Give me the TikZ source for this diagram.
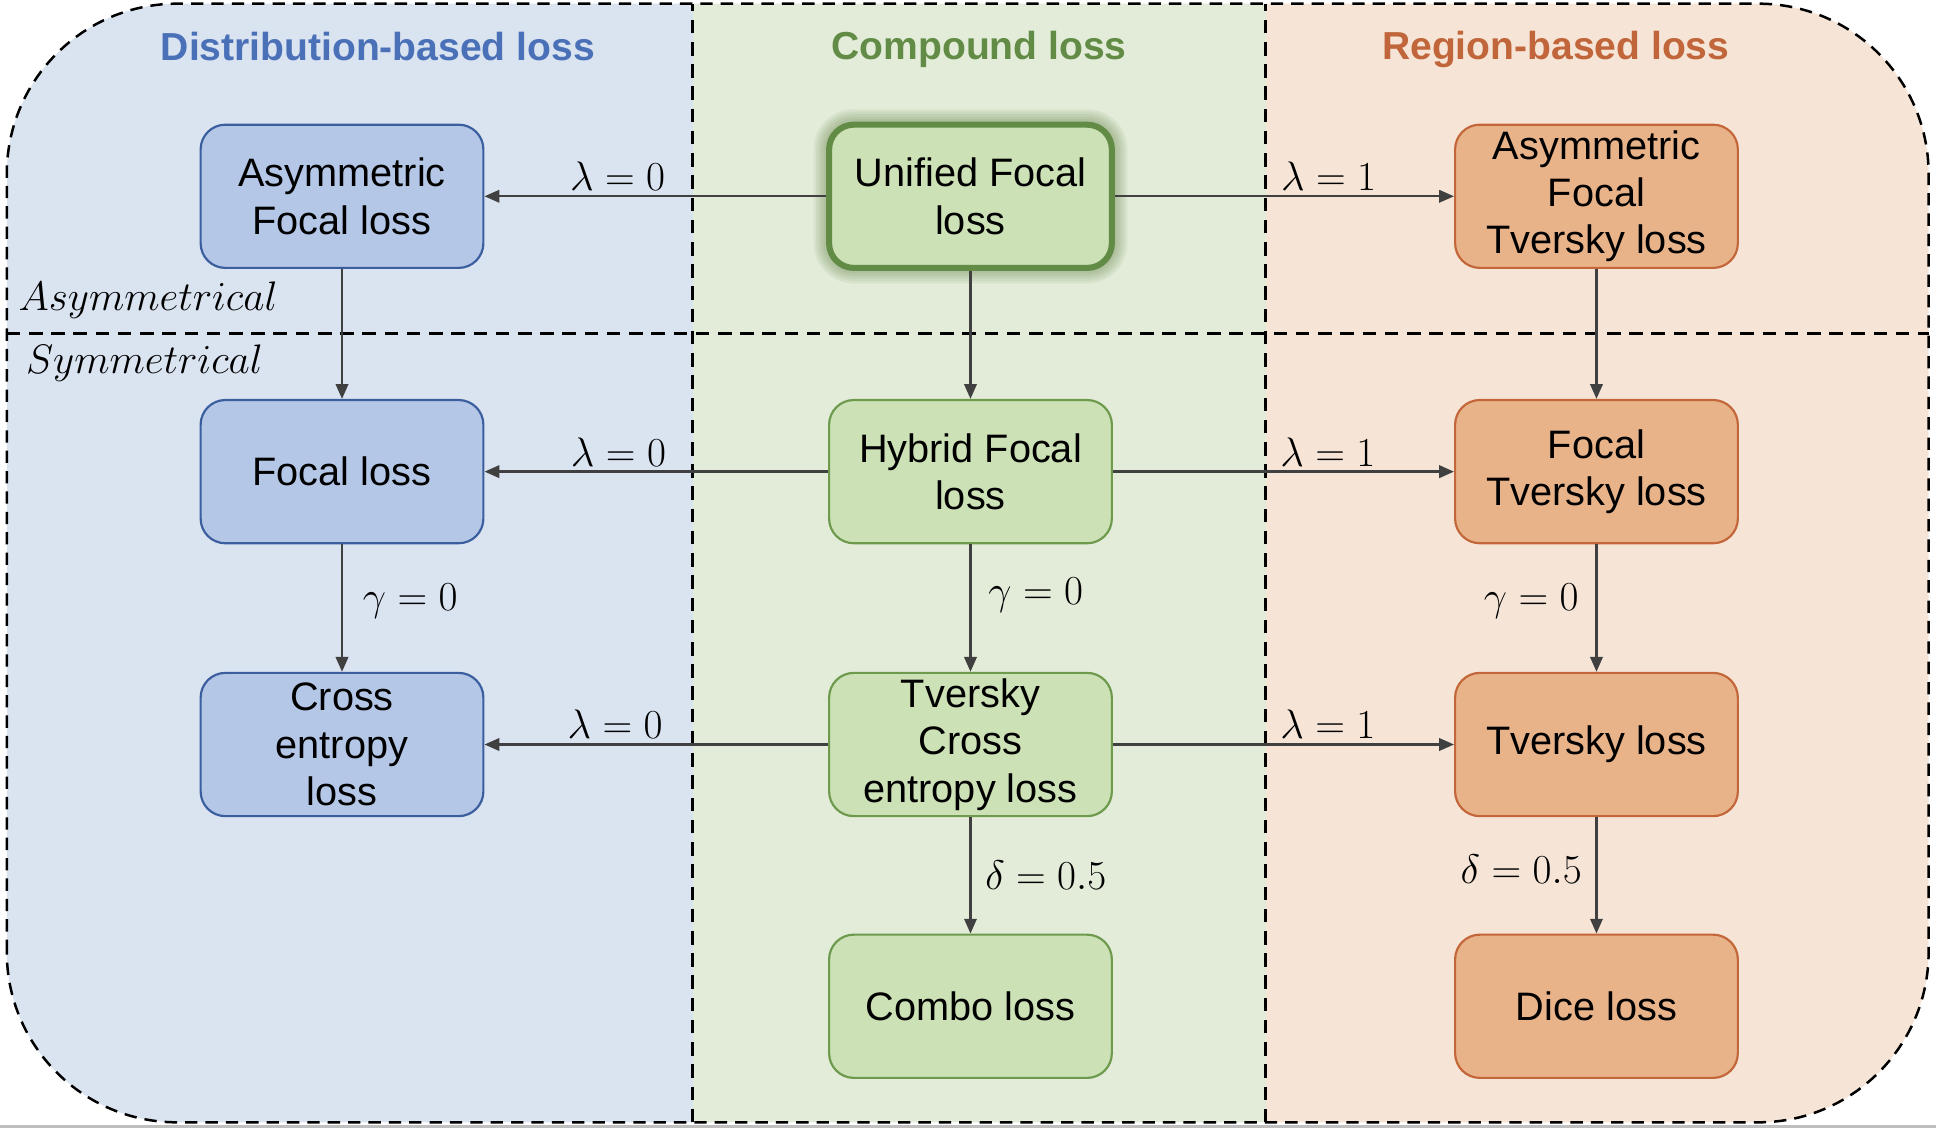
\RequirePackage{fix-cm}
\documentclass[tikz,border=0pt]{standalone}
\usepackage{amsmath}
\usepackage{fontspec}
\setmainfont{Liberation Sans}
\usetikzlibrary{arrows.meta,calc}

\definecolor{distbg}{HTML}{DAE3F0}
\definecolor{distbox}{HTML}{B4C7E7}
\definecolor{distline}{HTML}{3B5E9E}
\definecolor{disttitle}{HTML}{4A70B8}
\definecolor{compbg}{HTML}{E2ECD9}
\definecolor{compbox}{HTML}{CCE1B6}
\definecolor{compline}{HTML}{6E9A4E}
\definecolor{comptitle}{HTML}{628C45}
\definecolor{glowgreen}{HTML}{6F8A52}
\definecolor{regbg}{HTML}{F6E5D7}
\definecolor{regbox}{HTML}{E9B38A}
\definecolor{regline}{HTML}{C3673A}
\definecolor{regtitle}{HTML}{C0663A}
\definecolor{arrowgray}{HTML}{404040}

\begin{document}
\begin{tikzpicture}[
    lossbox/.style={rectangle, rounded corners=0.4cm, minimum width=4.58cm, minimum height=2.32cm,
      align=center, line width=1pt, inner sep=2pt, font=\fontsize{18.3}{21.8}\selectfont},
    distnode/.style={lossbox, draw=distline, fill=distbox},
    compnode/.style={lossbox, draw=compline, fill=compbox},
    regnode/.style={lossbox, draw=regline, fill=regbox},
    coltitle/.style={font=\fontsize{18}{21.6}\selectfont\bfseries},
    lbl/.style={font=\fontsize{19}{22}\selectfont, inner sep=2pt},
    sidelbl/.style={font=\fontsize{19}{22}\selectfont, inner sep=0pt},
    link/.style={-{Triangle[length=0.24cm,width=0.2cm]}, draw=arrowgray, line width=1.1pt},
    panelline/.style={dash pattern=on 0.22cm off 0.14cm, line width=1.6pt},
    outerline/.style={dash pattern=on 0.2cm off 0.13cm, line width=1.15pt}
  ]
  % columns and rows
  \def\ca{5.54}
  \def\cb{15.72}
  \def\cc{25.86}
  \def\ra{15.10}
  \def\rb{10.64}
  \def\rc{6.22}
  \def\rd{1.98}
  \def\R{2.76cm}

  \useasboundingbox (0,0) rectangle (31.36,18.28);

  % background panels
  \begin{scope}
    \clip[rounded corners=\R] (0.11,0.10) rectangle (31.24,18.22);
    \fill[distbg] (0,0) rectangle (11.22,18.3);
    \fill[compbg] (11.22,0) rectangle (20.5,18.3);
    \fill[regbg] (20.5,0) rectangle (31.4,18.3);
  \end{scope}
  \draw[outerline, rounded corners=\R] (0.11,0.10) rectangle (31.24,18.22);
  \draw[panelline] (11.22,0.10) -- (11.22,18.22);
  \draw[panelline] (20.5,0.10) -- (20.5,18.22);
  \draw[panelline] (0.11,12.88) -- (31.24,12.88);
  \draw[gray!50, line width=0.05cm] (0,0.03) -- (31.36,0.03);

  % column titles
  \node[coltitle, text=disttitle] (disttitle) at (6.12,17.52) {Distribution-based loss};
  \node[coltitle, text=comptitle] (comptitle) at (15.86,17.48) {Compound loss};
  \node[coltitle, text=regtitle] (regtitle) at (25.2,17.48) {Region-based loss};

  % asymmetrical / symmetrical
  \node[sidelbl] (asym) at (2.4,13.42) {$Asymmetrical$};
  \node[sidelbl] (sym) at (2.34,12.4) {$Symmetrical$};

  % distribution-based losses
  \node[distnode] (afl) at (\ca,\ra) {Asymmetric\\Focal loss};
  \node[distnode] (fl) at (\ca,\rb) {Focal loss};
  \node[distnode] (ce) at (\ca,\rc) {Cross\\entropy\\loss};

  % glow round the unified focal loss
  \coordinate (uflc) at (\cb,\ra);
  \foreach \g in {0.25,0.21,0.17,0.13,0.09,0.05}
    \fill[glowgreen, opacity=0.1, rounded corners=0.4cm+\g cm] ($(uflc)+(-2.29-\g,-1.16-\g)$) rectangle ($(uflc)+(2.29+\g,1.16+\g)$);

  % compound losses
  \node[compnode, draw=comptitle, line width=2.8pt] (ufl) at (uflc) {Unified Focal\\loss};
  \node[compnode] (hfl) at (\cb,\rb) {Hybrid Focal\\loss};
  \node[compnode] (tce) at (\cb,\rc) {Tversky\\Cross\\entropy loss};
  \node[compnode] (combo) at (\cb,\rd) {Combo loss};

  % region-based losses
  \node[regnode] (aftl) at (\cc,\ra) {Asymmetric\\Focal\\Tversky loss};
  \node[regnode] (ftl) at (\cc,\rb) {Focal\\Tversky loss};
  \node[regnode] (tl) at (\cc,\rc) {Tversky loss};
  \node[regnode] (dice) at (\cc,\rd) {Dice loss};

  % lambda arrows
  \draw[link] (ufl) -- node[lbl, pos=0.61, above] {$\lambda = 0$} (afl);
  \draw[link] (hfl) -- node[lbl, pos=0.61, above] {$\lambda = 0$} (fl);
  \draw[link] (tce) -- node[lbl, pos=0.62, above] {$\lambda = 0$} (ce);
  \draw[link] (ufl) -- node[lbl, pos=0.63, above] {$\lambda = 1$} (aftl);
  \draw[link] (hfl) -- node[lbl, pos=0.63, above] {$\lambda = 1$} (ftl);
  \draw[link] (tce) -- node[lbl, pos=0.63, above] {$\lambda = 1$} (tl);

  % vertical arrows
  \draw[link] (afl) -- (fl);
  \draw[link] (fl) -- node[lbl, pos=0.45, right=0.25cm] {$\gamma = 0$} (ce);
  \draw[link] (ufl) -- (hfl);
  \draw[link] (hfl) -- node[lbl, pos=0.4, right=0.2cm] {$\gamma = 0$} (tce);
  \draw[link] (tce) -- node[lbl, right=0.15cm] {$\delta = 0.5$} (combo);
  \draw[link] (aftl) -- (ftl);
  \draw[link] (ftl) -- node[lbl, pos=0.45, left=0.2cm] {$\gamma = 0$} (tl);
  \draw[link] (tl) -- node[lbl, pos=0.45, left=0.15cm] {$\delta = 0.5$} (dice);
\end{tikzpicture}
\end{document}
